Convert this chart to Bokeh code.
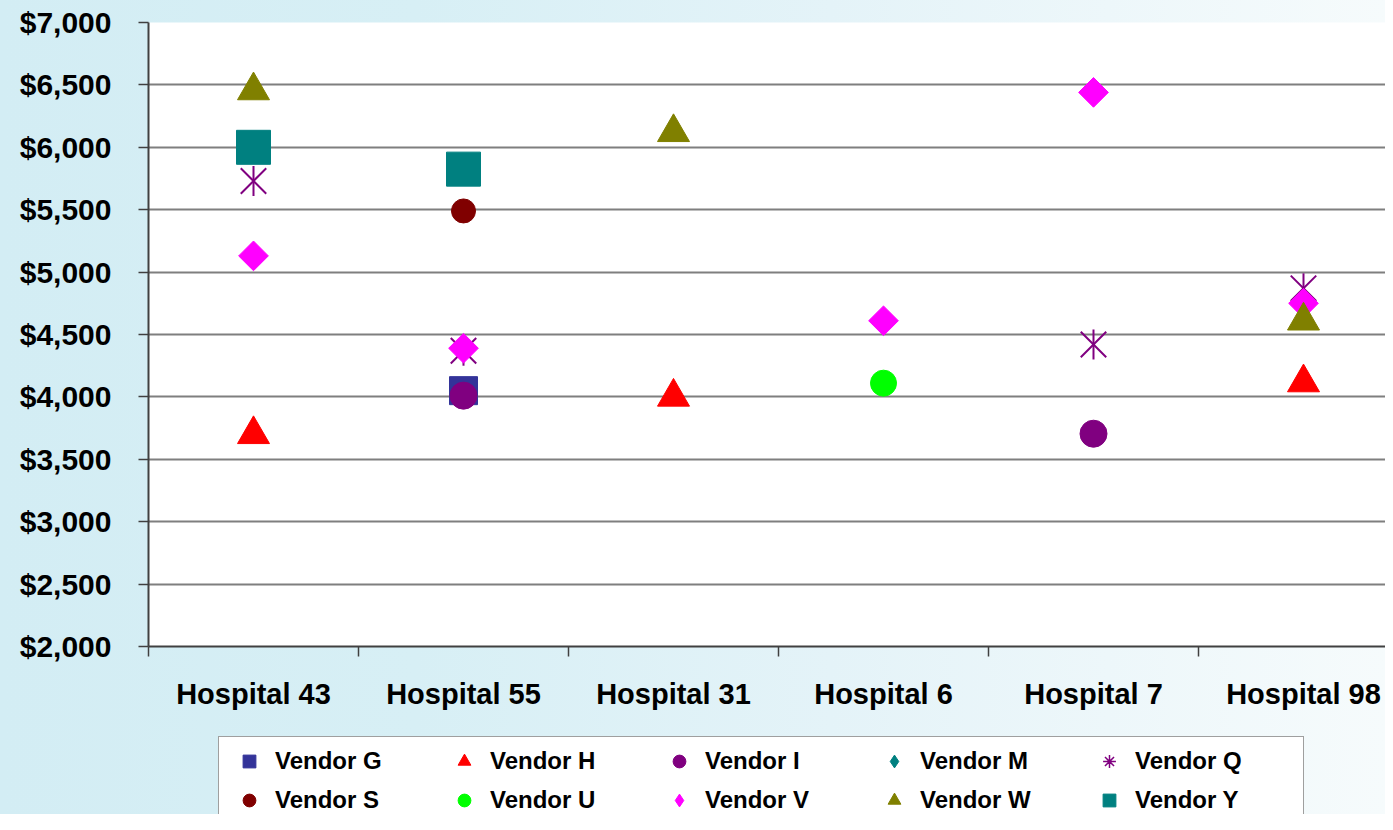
import math
from bokeh.plotting import figure
from bokeh.layouts import column
from bokeh.models import (Range1d, FixedTicker, NumeralTickFormatter, Legend,
                          LegendItem, ColumnDataSource)
from bokeh.embed import file_html
from bokeh.resources import INLINE

nan = float("nan")

hospitals = ["Hospital 43", "Hospital 55", "Hospital 31", "Hospital 6", "Hospital 7", "Hospital 98"]

vendor_g = [nan, 4050, nan, nan, nan, nan]
vendor_h = [3700, nan, 4000, nan, nan, 4115]
vendor_i = [nan, 4010, nan, nan, 3705, nan]
vendor_m = [nan, nan, nan, nan, nan, nan]
vendor_q = [5730, 4370, nan, nan, 4420, 4870]
vendor_s = [nan, 5490, nan, nan, nan, nan]
vendor_u = [nan, nan, nan, 4110, nan, nan]
vendor_v = [5130, 4390, nan, 4610, 6440, 4750]
vendor_w = [6455, nan, 6120, nan, nan, 4610]
vendor_y = [6000, 5825, nan, nan, nan, nan]

y_ticks = [2000, 2500, 3000, 3500, 4000, 4500, 5000, 5500, 6000, 6500, 7000]

FONT = "Liberation Sans"
GRADIENT = {"background": "linear-gradient(to right, #d3edf4 0%, #d7eff5 30%, #e4f3f8 60%, #f6fbfc 100%)"}

W = 1385
H_MAIN, H_LEG = 720, 94
LEFT, TOP = 148, 22
p = figure(width=W, height=H_MAIN,
           x_range=Range1d(0, (W - LEFT) / 210), y_range=Range1d(2000, 7000),
           output_backend="svg", toolbar_location=None,
           min_border_left=LEFT, min_border_right=0, min_border_top=TOP,
           min_border_bottom=H_MAIN - 646)

p.border_fill_color = None
p.background_fill_color = "white"
p.outline_line_color = None
p.styles = GRADIENT

# axes
centers = [i + 0.5 for i in range(len(hospitals))]
xa = p.xaxis[0]
xa.ticker = FixedTicker(ticks=centers, minor_ticks=list(range(len(hospitals))))
xa.major_label_overrides = {c: h for c, h in zip(centers, hospitals)}
xa.major_tick_out = 0
xa.major_tick_in = 0
xa.minor_tick_out = 10
xa.minor_tick_in = 0
xa.minor_tick_line_color = "#404040"
xa.minor_tick_line_width = 1.5
xa.axis_line_color = "#404040"
xa.axis_line_width = 2
xa.major_label_text_font = FONT
xa.major_label_text_font_style = "bold"
xa.major_label_text_font_size = "29px"
xa.major_label_text_color = "black"
xa.major_label_standoff = 21

ya = p.yaxis[0]
ya.ticker = FixedTicker(ticks=y_ticks)
ya.formatter = NumeralTickFormatter(format="$0,0")
ya.major_tick_out = 10
ya.major_tick_in = 0
ya.minor_tick_line_color = None
ya.major_tick_line_color = "#404040"
ya.major_tick_line_width = 1.5
ya.axis_line_color = "#404040"
ya.axis_line_width = 2
ya.major_label_text_font = FONT
ya.major_label_text_font_style = "bold"
ya.major_label_text_font_size = "30px"
ya.major_label_text_color = "black"
ya.major_label_standoff = 27

p.xgrid.visible = False
p.ygrid.grid_line_color = "#7f7f7f"
p.ygrid.grid_line_width = 2


def src(vals):
    xs = [c for c, v in zip(centers, vals) if not math.isnan(v)]
    ys = [v for v in vals if not math.isnan(v)]
    return ColumnDataSource(dict(x=xs, y=ys))


colors = {
    "Vendor G": "#333399", "Vendor H": "#ff0000", "Vendor I": "#800080", "Vendor M": "#008080",
    "Vendor Q": "#800080", "Vendor S": "#800000", "Vendor U": "#00ff00", "Vendor V": "#ff00ff",
    "Vendor W": "#808000", "Vendor Y": "#008080",
}
# chart markers
styles = {
    "Vendor G": [dict(marker="square", size=28)],
    "Vendor H": [dict(marker="triangle", size=32)],
    "Vendor I": [dict(marker="circle", size=27)],
    "Vendor M": [dict(marker="square", size=21, angle=math.pi / 4)],
    "Vendor Q": [dict(marker="x", size=36, line_width=2),
                 dict(marker="dash", size=30, angle=math.pi / 2, line_width=2)],
    "Vendor S": [dict(marker="circle", size=24)],
    "Vendor U": [dict(marker="circle", size=26)],
    "Vendor V": [dict(marker="square", size=21, angle=math.pi / 4)],
    "Vendor W": [dict(marker="triangle", size=32)],
    "Vendor Y": [dict(marker="square", size=34)],
}
# legend markers (legend glyphs ignore angle)
legend_markers = {
    "Vendor G": "square", "Vendor H": "triangle", "Vendor I": "circle", "Vendor M": "diamond",
    "Vendor Q": "asterisk", "Vendor S": "circle", "Vendor U": "circle", "Vendor V": "diamond",
    "Vendor W": "triangle", "Vendor Y": "square",
}
values = {
    "Vendor G": vendor_g, "Vendor H": vendor_h, "Vendor I": vendor_i, "Vendor M": vendor_m,
    "Vendor Q": vendor_q, "Vendor S": vendor_s, "Vendor U": vendor_u, "Vendor V": vendor_v,
    "Vendor W": vendor_w, "Vendor Y": vendor_y,
}

for name, vals in values.items():
    s = src(vals)
    c = colors[name]
    for st in styles[name]:
        if st["marker"] in ("x", "dash"):
            p.scatter("x", "y", source=s, line_color=c, **st)
        else:
            p.scatter("x", "y", source=s, fill_color=c, line_color=c, **st)

# legend in its own strip below the chart (frame aligned with the chart frame)
lf = figure(width=W, height=H_LEG, x_range=Range1d(0, 1), y_range=Range1d(0, 1),
            output_backend="svg", toolbar_location=None,
            x_axis_location=None, y_axis_location=None,
            min_border_left=0, min_border_right=0,
            min_border_top=0, min_border_bottom=0)
lf.border_fill_color = None
lf.background_fill_color = None
lf.outline_line_color = None
lf.xgrid.visible = False
lf.ygrid.visible = False
lf.styles = GRADIENT

# invisible legend proxies (one off-view point each) so the legend draws its glyphs
proxy = ColumnDataSource(dict(x=[-5.0], y=[-5.0]))
items = []
for name in values:
    c = colors[name]
    m = legend_markers[name]
    if m == "asterisk":
        r = lf.scatter("x", "y", source=proxy, marker=m, line_color=c, line_width=1.5)
    else:
        r = lf.scatter("x", "y", source=proxy, marker=m, fill_color=c, line_color=c)
    items.append(LegendItem(label=name, renderers=[r]))

legend = Legend(items=items, ncols=5, location=(70, -11))
legend.orientation = "horizontal"
legend.glyph_width = 44
legend.glyph_height = 32
legend.label_height = 30
legend.label_width = 160
legend.label_standoff = 4
legend.spacing = 7
legend.padding = 8
legend.margin = 0
legend.label_text_font = FONT
legend.label_text_font_style = "bold"
legend.label_text_font_size = "24px"
legend.label_text_color = "black"
legend.border_line_color = "#404040"
legend.border_line_width = 1.5
legend.background_fill_color = "white"
legend.background_fill_alpha = 1.0
lf.add_layout(legend, "center")

layout = column(p, lf, spacing=0)
open("out.html", "w").write(file_html(layout, INLINE))
